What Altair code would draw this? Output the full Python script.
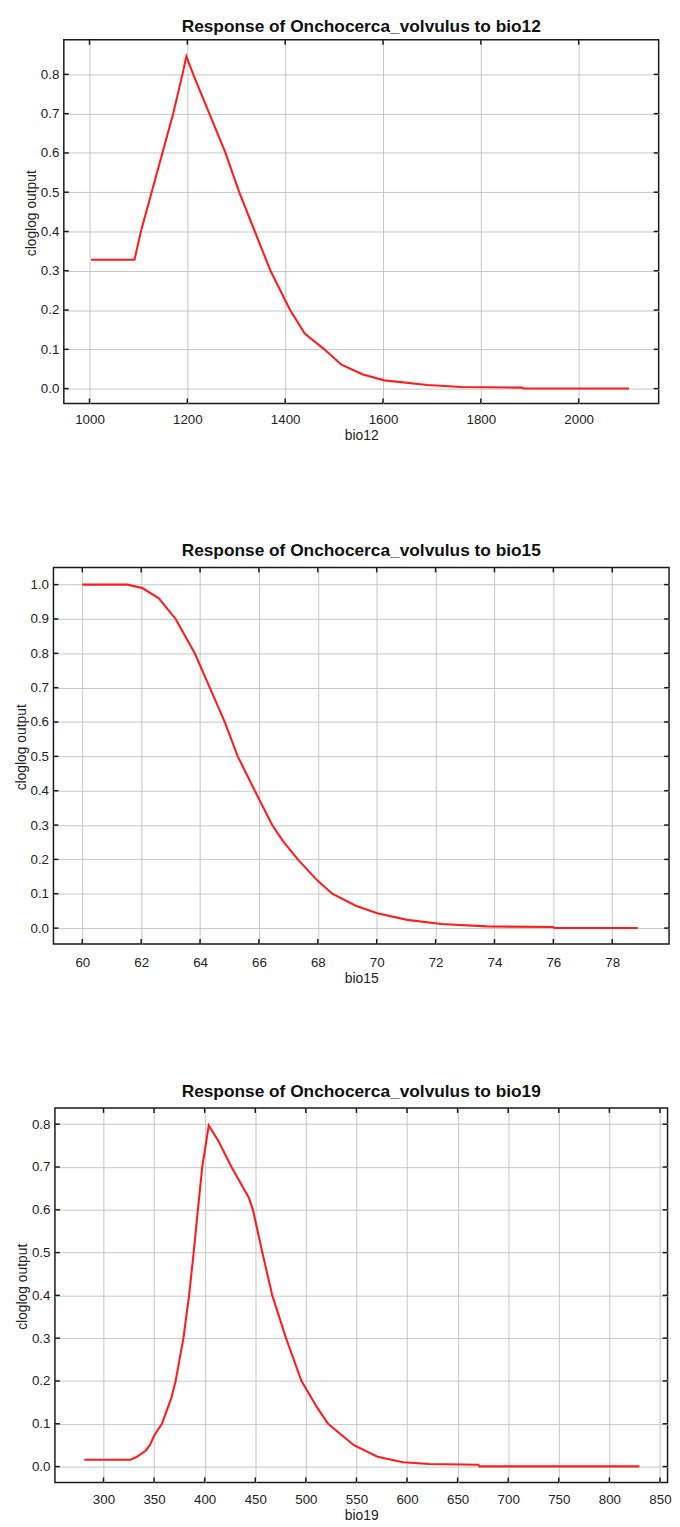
import altair as alt
import pandas as pd

FONT = "Liberation Sans"

# ---- bio12 panel ----
bio12_x = [1003, 1092, 1105, 1127, 1149, 1171, 1190, 1198, 1212, 1245, 1278, 1306, 1338, 1370,
           1410, 1440, 1480, 1515, 1559, 1603, 1691, 1761, 1884, 1888, 2103]
bio12_y = [0.328, 0.328, 0.4, 0.5, 0.6, 0.7, 0.8, 0.846, 0.8, 0.7, 0.6, 0.5, 0.4, 0.3,
           0.2, 0.14, 0.1, 0.061, 0.036, 0.021, 0.009, 0.004, 0.0025, 0.0005, 0.0005]
bio12_xticks = [1000, 1200, 1400, 1600, 1800, 2000]
bio12_yticks = [0.0, 0.1, 0.2, 0.3, 0.4, 0.5, 0.6, 0.7, 0.8]

# ---- bio15 panel ----
bio15_x = [60.0, 61.53, 62.04, 62.6, 63.17, 63.82, 64.33, 64.84, 65.28, 65.86, 66.45,
           66.81, 67.32, 67.98, 68.49, 69.29, 70.02, 71.04, 72.2, 73.74, 76.0, 76.03, 78.87]
bio15_y = [1.0, 1.0, 0.990, 0.96, 0.9, 0.8, 0.7, 0.6, 0.5, 0.4, 0.3,
           0.254, 0.2, 0.139, 0.1, 0.065, 0.043, 0.024, 0.012, 0.005, 0.003, 0.0005, 0.0005]
bio15_xticks = [60, 62, 64, 66, 68, 70, 72, 74, 76, 78]
bio15_yticks = [0.0, 0.1, 0.2, 0.3, 0.4, 0.5, 0.6, 0.7, 0.8, 0.9, 1.0]

# ---- bio19 panel ----
bio19_x = [281, 326.7, 333, 341.6, 345.8, 350, 357.7, 367, 371.3, 379, 384.6, 389.1, 393.3,
           397.6, 404, 413.7, 426.5, 443.5, 447.7, 457, 466.8, 480.4, 495.7, 511.4, 522,
           547.5, 570.8, 596.3, 621.7, 670.5, 671.5, 829.7]
bio19_y = [0.016, 0.016, 0.023, 0.037, 0.05, 0.072, 0.1, 0.16, 0.2, 0.3, 0.4, 0.5, 0.6,
           0.7, 0.797, 0.76, 0.7, 0.629, 0.6, 0.5, 0.4, 0.3, 0.2, 0.137, 0.1,
           0.05, 0.023, 0.010, 0.006, 0.0045, 0.0005, 0.0005]
bio19_xticks = [300, 350, 400, 450, 500, 550, 600, 650, 700, 750, 800, 850]
bio19_yticks = [0.0, 0.1, 0.2, 0.3, 0.4, 0.5, 0.6, 0.7, 0.8]

GRID = "#c6c6c6"
FRAME = "#1a1a1a"
RED = "#ff1c1c"


def panel(xs, ys, var, xdom, ydom, xticks, yticks, W, H, title_offset, xlabpad):
    df = pd.DataFrame({"x": xs, "y": ys})
    xsc = alt.Scale(domain=xdom, nice=False, zero=False)
    ysc = alt.Scale(domain=ydom, nice=False, zero=False)
    xaxis = alt.Axis(values=xticks, format="d", grid=True, gridColor=GRID, gridWidth=1,
                     ticks=False, tickSize=0, domain=False, labelFontSize=13.5,
                     labelFont=FONT, labelColor="#222", labelPadding=xlabpad,
                     labelFlush=False, labelOverlap=False, title=var, titleFont=FONT,
                     titleFontSize=14, titleFontWeight="normal", titleColor="#222",
                     titlePadding=3)
    yaxis = alt.Axis(values=yticks, format=".1f", grid=True, gridColor=GRID, gridWidth=1,
                     ticks=False, tickSize=0, domain=False, labelFontSize=13.5,
                     labelFont=FONT, labelColor="#222", labelPadding=5,
                     labelFlush=False, labelOverlap=False, title="cloglog output",
                     titleFont=FONT, titleFontSize=14, titleFontWeight="normal",
                     titleColor="#222", titlePadding=2, titleY=H / 2 - 9)
    X = alt.X("x:Q", scale=xsc, axis=xaxis)
    Y = alt.Y("y:Q", scale=ysc, axis=yaxis)
    line = alt.Chart(df).mark_line(color=RED, strokeWidth=2.1, clip=True).encode(x=X, y=Y)
    tx = pd.DataFrame({"x": xticks})
    ty = pd.DataFrame({"y": yticks})
    tk = dict(color=FRAME, strokeWidth=1.5)
    top = alt.Chart(tx).mark_rule(**tk).encode(x=X, y=alt.value(0), y2=alt.value(5))
    bot = alt.Chart(tx).mark_rule(**tk).encode(x=X, y=alt.value(H - 5), y2=alt.value(H))
    left = alt.Chart(ty).mark_rule(**tk).encode(y=Y, x=alt.value(0), x2=alt.value(5))
    right = alt.Chart(ty).mark_rule(**tk).encode(y=Y, x=alt.value(W - 5), x2=alt.value(W))
    title = alt.TitleParams(
        text=f"Response of Onchocerca_volvulus to {var}", font=FONT, fontSize=17.5,
        fontWeight="bold", color="#111", anchor="middle", offset=title_offset)
    return alt.layer(line, top, bot, left, right).properties(width=W, height=H, title=title)


p1 = panel(bio12_x, bio12_y, "bio12", [947.5, 2163.5], [-0.0377, 0.888],
           bio12_xticks, bio12_yticks, 602, 368, 4, 9)
p2 = panel(bio15_x, bio15_y, "bio15", [59.02, 79.93], [-0.046, 1.05],
           bio15_xticks, bio15_yticks, 623, 381, 7, 12)
p3 = panel(bio19_x, bio19_y, "bio19", [252.0, 857.5], [-0.037, 0.838],
           bio19_xticks, bio19_yticks, 620, 379, 7, 10.5)

chart = alt.vconcat(p1, p2, p3, spacing=166, bounds="flush", center=True).properties(
    padding={"left": 5, "top": 0, "right": 0, "bottom": 0}
).configure(
    font=FONT,
    view=alt.ViewConfig(stroke=FRAME, strokeWidth=1.5),
)

chart.save("out.html", embed_options={"renderer": "svg", "actions": False})
